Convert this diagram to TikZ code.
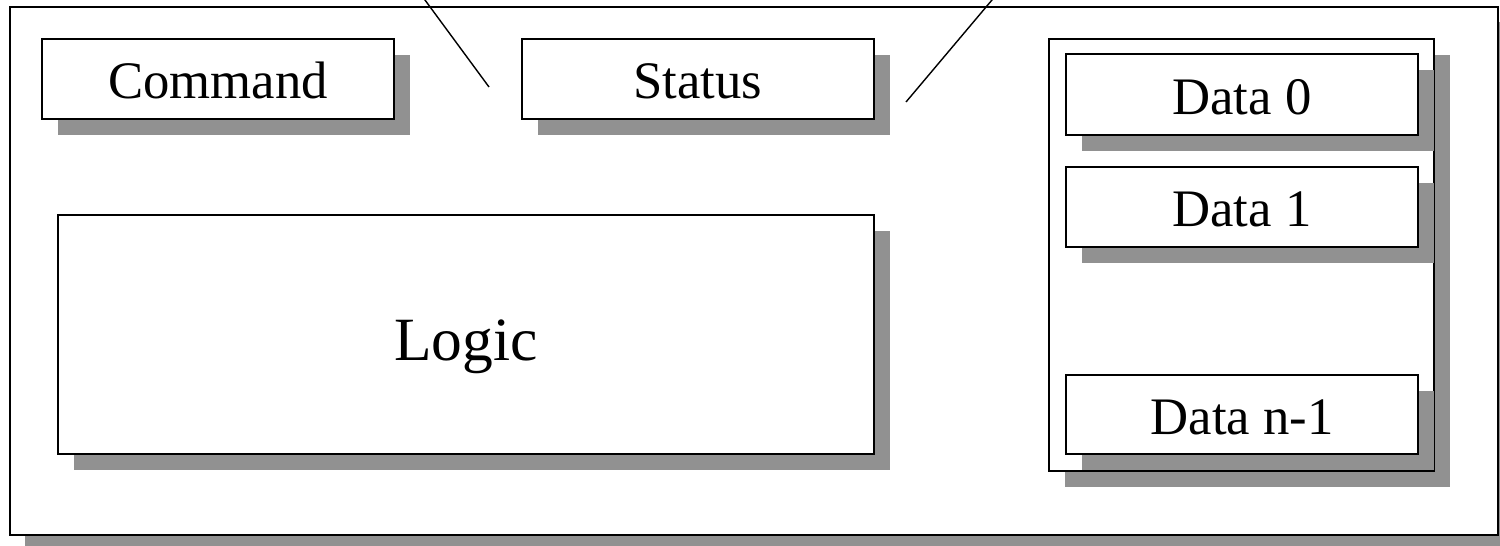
\documentclass[tikz,border=0pt]{standalone}
\usepackage{fontspec}
\setmainfont{Liberation Serif}
\usetikzlibrary{shadows}
\definecolor{shadegray}{HTML}{919191}
\tikzset{
  px/.style={x={(0.02cm,0)}, y={(0,-0.02cm)}},
  block/.style={draw, fill=white, rectangle, line width=1.15pt, inner sep=0pt,
    font=\fontsize{30}{36}\selectfont, text height=22.5pt, text depth=0pt,
    general shadow={fill=shadegray, shadow xshift=0.32cm, shadow yshift=-0.32cm}},
  outerframe/.style={draw, fill=white, rectangle, line width=1.4pt, inner sep=0pt,
    general shadow={fill=shadegray, shadow xshift=0.3cm, shadow yshift=-0.3cm}},
  link/.style={line width=0.8pt}
}
\begin{document}
\begin{tikzpicture}[px]
\useasboundingbox (0,0) rectangle (1500,546);
\clip (0,0) rectangle (1500,546);
% enclosing unit
\node[outerframe, minimum width=29.76cm, minimum height=10.56cm] (unit) at (754,271) {};
% registers
\node[block, minimum width=7.04cm, minimum height=1.6cm] (command) at (218,79) {Command};
\node[block, minimum width=7.04cm, minimum height=1.6cm] (status) at (698,79) {Status};
% logic block
\node[block, minimum width=16.32cm, minimum height=4.78cm,
      font=\fontsize{35}{42}\selectfont, text height=29.5pt] (logic) at (466,334.5) {Logic};
% data buffer with its entries
\node[block, minimum width=7.7cm, minimum height=8.64cm] (buffer) at (1241.5,255) {};
\node[block, minimum width=7.04cm, minimum height=1.62cm] (data0) at (1242,94.5) {Data 0};
\node[block, minimum width=7.04cm, minimum height=1.6cm] (data1) at (1242,207) {Data 1};
\node[block, minimum width=7.04cm, minimum height=1.58cm] (datan) at (1242,414.5) {Data n-1};
% callout lines around the status register
\coordinate (calloutL) at (417.6,-10);
\coordinate (calloutR) at (1000.4,-10);
\coordinate (tipL) at (489,87);
\coordinate (tipR) at (906,102);
\draw[link] (calloutL) -- (tipL);
\draw[link] (calloutR) -- (tipR);
\end{tikzpicture}
\end{document}
